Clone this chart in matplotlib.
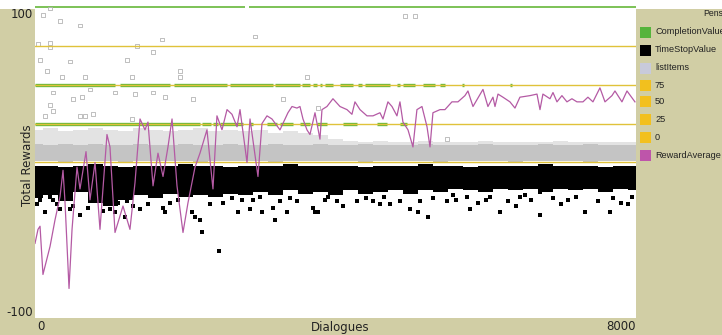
import matplotlib
matplotlib.use("Agg")
import matplotlib.pyplot as plt
from matplotlib.patches import Rectangle

# --- data ------------------------------------------------------------------
# RewardAverage pen (dialogue, reward)
avg_dialogues = [0, 40, 67, 106, 200, 266, 333, 373, 400, 453, 493, 559, 599, 679, 732,
                 799, 865, 958, 998, 1065, 1171, 1264, 1331, 1398, 1464, 1504, 1571, 1637,
                 1704, 1770, 1824, 1890, 1970, 2036, 2130, 2196, 2289, 2369, 2422, 2489,
                 2556, 2622, 2689, 2729, 2822, 2862, 2968, 3021, 3088, 3154, 3261, 3367,
                 3421, 3487, 3527, 3567, 3620, 3660, 3727, 3793, 3820, 3886, 3966, 4060,
                 4153, 4219, 4259, 4326, 4419, 4499, 4592, 4632, 4698, 4752, 4818, 4858,
                 4898, 4965, 5031, 5084, 5151, 5218, 5258, 5297, 5391, 5457, 5550, 5630,
                 5723, 5763, 5830, 5963, 6029, 6096, 6123, 6163, 6229, 6322, 6389, 6455,
                 6588, 6682, 6722, 6761, 6855, 6895, 6948, 7014, 7081, 7147, 7214, 7294,
                 7360, 7427, 7520, 7587, 7680, 7720, 7813, 7880, 7986]
avg_rewards = [-52, -43, -41, -72, -54, -37, -22, -5, -26, -81, -43, -3, -17, 7, -24,
               0, -43, 18, 10, -45, -28, -43, -13, 28, 21, 26, -15, 6,
               -9, 10, 28, -15, -45, -26, -3, 6, 21, -17, 30, 21,
               34, 31, 23, 34, 0, 28, -9, 25, 30, 28, 21, 32,
               36, 35, 36, 28, 21, 18, 32, 15, 34, 36, 41, 36,
               34, 31, 39, 34, 30, 30, 32, 28, 39, 36, 30, 39,
               26, 21, 10, 34, 36, 23, 10, 32, 34, 34, 39, 39,
               43, 46, 36, 47, 36, 42, 36, 44, 42, 39, 35, 42,
               43, 44, 34, 44, 41, 45, 39, 43, 39, 41, 39, 39,
               42, 39, 48, 39, 43, 46, 39, 46, 39]

# dense point bands, per 200 dialogues
band_dialogues = list(range(0, 8001, 200))
timestop_high = [-2, -2, -3, -2, -1, -2, -3, -2, -2, -2, -1, -2, -2, -3, -2, -2, -2, -1, -2, -2, -2,
                 -2, -3, -2, -2, -2, -1, -2, -2, -3, -2, -2, -2, -2, -1, -2, -2, -2, -3, -2, -2]
timestop_low = [-23, -21, -25, -19, -26, -28, -24, -21, -23, -20, -22, -21, -22, -20, -21, -19, -21,
                -18, -20, -19, -21, -18, -20, -19, -18, -20, -18, -19, -17, -18, -19, -17, -18,
                -17, -19, -17, -18, -17, -19, -17, -18]
items_low = [1, 1, 0, 1, 1, 1, 0, 1, 1, 1, 1, 0, 1, 1, 1, 1, 0, 1, 1, 1, 1,
             1, 0, 1, 1, 1, 1, 0, 1, 1, 1, 1, 0, 1, 1, 1, 1, 0, 1, 1, 1]
items_high = [12, 11, 12, 11, 12, 11, 11, 12, 11, 11, 12, 11, 11, 12, 11, 11, 12, 11, 11, 12, 11,
              11, 12, 11, 11, 11, 12, 11, 11, 11, 12, 11, 11, 11, 12, 11, 11, 12, 11, 11, 11]
items_scatter_high = [21, 22, 20, 21, 22, 21, 20, 22, 21, 20, 21, 22, 20, 21, 20, 21, 19, 20, 19, 18, 15,
                      14, 13, 14, 13, 13, 14, 13, 13, 13, 14, 13, 13, 13, 13, 14, 13, 13, 13, 13, 13]

# scattered TimeStopValue points
stop_x = [2196, 2223, 2449, 2702, 2862, 3021, 3194, 3168, 3354, 3700, 3727, 3767, 4592, 4725,
          4991, 5098, 5231, 5484, 2329, 2622, 2902, 3261, 3487, 3860, 4020, 4286, 4499, 4858,
          5124, 27, 67, 240, 293, 200, 1198, 1704, 1730, 2090, 2130, 1225, 732, 865, 5564,
          6056, 6455, 6522, 6722, 6189, 6722, 7321, 7653, 7893, 5790, 466, 599, 998, 1065,
          1398, 1504, 133, 333, 5600, 5750, 5900, 6000, 6300, 6400, 6600, 6900, 7000, 7100,
          7200, 7500, 7700, 7800, 7950, 3900, 4100, 4400, 4650, 5300, 2500, 2750, 3000, 3400,
          1800, 1900, 1300, 1100, 500, 700, 900]
stop_y = [-37, -45, -57, -32, -30, -32, -37, -29, -32, -29, -32, -32, -27, -27,
          -30, -32, -35, -25, -27, -23, -24, -25, -25, -24, -25, -25, -25, -25,
          -25, -27, -24, -24, -27, -22, -35, -29, -32, -32, -35, -25, -22, -22, -21,
          -22, -22, -21, -19, -32, -34, -32, -32, -27, -30, -30, -34, -30, -32,
          -30, -27, -32, -30, -24, -22, -26, -24, -25, -28, -24, -23, -27, -24,
          -22, -25, -23, -26, -22, -22, -28, -23, -22, -23, -26, -24, -22, -23,
          -26, -24, -28, -26, -28, -29, -31]

# scattered listItems points
items_x = [200, 106, 333, 599, 40, 200, 200, 1358, 1690, 1570, 67, 466, 1225, 160, 359, 666,
           1930, 1930, 1291, 240, 626, 732, 1065, 1331, 1570, 1730, 506, 200, 599, 772, 2103,
           4925, 5058, 2928, 3620, 3301, 3767, 240, 133, 666, 1291, 5484]
items_y = [99, 95, 91, 88, 76, 77, 74, 75, 79, 71, 66, 65, 66, 59, 55, 55,
           59, 55, 55, 45, 42, 47, 45, 44, 45, 42, 41, 37, 30, 31, 41,
           94, 94, 81, 55, 41, 35, 33, 30, 30, 28, 15]

# CompletionValue runs (start, end dialogue) at each reward level
completion_levels = [100, 50, 25, 12]
completion_runs = [
    [(0, 2790), (2850, 8000)],
    [(0, 1065), (1131, 1797), (1850, 2556), (2595, 3168), (3194, 3527), (3554, 3660),
     (3700, 3754), (3793, 3820), (3860, 3966), (4060, 4233), (4299, 4352), (4392, 4725),
     (4818, 4858), (4898, 5058), (5164, 5324), (5391, 5457), (5683, 5710), (6322, 6349)],
    [(0, 2196), (2223, 2342), (2369, 2436), (2462, 2769), (2862, 2902), (3088, 3221),
     (3261, 3434), (3527, 3660), (3753, 3886), (4099, 4286), (4552, 4685), (4858, 4951)],
    [(106, 293), (333, 400), (533, 692), (825, 998), (1225, 1398), (1464, 1584),
     (1797, 2023), (2063, 2289), (3221, 3354), (3660, 3727)],
]

ref_levels = [75, 50, 25, 0]

pen_names = ["CompletionValue", "TimeStopValue", "listItems", "75", "50", "25", "0", "RewardAverage"]
pen_colors = ["#55b43c", "#000000", "#c8cadb", "#f2c01e", "#f2c01e", "#f2c01e", "#f2c01e", "#be55aa"]

# --- figure --------------------------------------------------------------
W, H = 722, 335
khaki = "#d1cea5"
fig = plt.figure(figsize=(W / 100, H / 100), dpi=100, facecolor=khaki)
fig.patches.append(Rectangle((0, 1 - 9 / H), 1, 9 / H, transform=fig.transFigure,
                             facecolor="white", edgecolor="none", zorder=-1))

ax = fig.add_axes([35 / W, (H - 318) / H, 601 / W, 318 / H])
ax.set_facecolor("white")
ax.set_xlim(0, 8000)
ax.set_ylim(-100, 104.5)
for s in ax.spines.values():
    s.set_visible(False)
ax.set_xticks([])
ax.set_yticks([])

# CompletionValue
for level, runs in zip(completion_levels, completion_runs):
    for a, b in runs:
        ax.plot([a, b], [level, level], color="#66b83a", lw=2.4 if level != 100 else 1.2,
                solid_capstyle="butt", zorder=2)

# listItems
ax.fill_between(band_dialogues, items_low, items_scatter_high, step="mid",
                color="#e3e3e3", lw=0, zorder=2)
ax.fill_between(band_dialogues, items_low, items_high, step="mid",
                color="#c4c4c4", lw=0, zorder=2)
ax.scatter(items_x, items_y, marker="s", s=7, facecolors="none",
           edgecolors="#b4b4b4", linewidths=0.6, zorder=2)

# TimeStopValue
ax.fill_between(band_dialogues, timestop_low, timestop_high, step="mid",
                color="black", lw=0, zorder=3)
ax.scatter(stop_x, stop_y, marker="s", s=5, color="black", lw=0, zorder=3)

# reference lines
for level in ref_levels:
    ax.axhline(level, color="#e0c23a", lw=1.0, zorder=4)

# RewardAverage
ax.plot(avg_dialogues, avg_rewards, color="#b45aa4", lw=0.9, zorder=5)

# axis texts
fig.text(33 / W, 1 - 15 / H, "100", ha="right", va="center", fontsize=8.5, color="#222222")
fig.text(33 / W, 1 - 312 / H, "-100", ha="right", va="center", fontsize=8.5, color="#222222")
fig.text(37 / W, 1 - 327 / H, "0", ha="left", va="center", fontsize=8.5, color="#222222")
fig.text(636 / W, 1 - 327 / H, "8000", ha="right", va="center", fontsize=8.5, color="#222222")
fig.text(340 / W, 1 - 327 / H, "Dialogues", ha="center", va="center", fontsize=8.5, color="#222222")
fig.text(28 / W, 1 - 165 / H, "Total Rewards", ha="center", va="center", rotation=90,
         fontsize=8.5, color="#222222")

# legend panel
fig.text(703 / W, 1 - 14 / H, "Pens", ha="left", va="center", fontsize=6.3,
         family="Liberation Sans", color="#222222")
row_y = [32, 50, 68, 85, 102, 119, 137, 155]
for name, col, yy in zip(pen_names, pen_colors, row_y):
    fig.patches.append(Rectangle((640 / W, 1 - (yy + 5.5) / H), 11 / W, 11 / H,
                                 transform=fig.transFigure, facecolor=col, edgecolor="none"))
    fig.text(655 / W, 1 - yy / H, name, ha="left", va="center", fontsize=6.6,
             family="Liberation Sans", color="#222222")

fig.savefig("out.png", dpi=100, facecolor=khaki)
